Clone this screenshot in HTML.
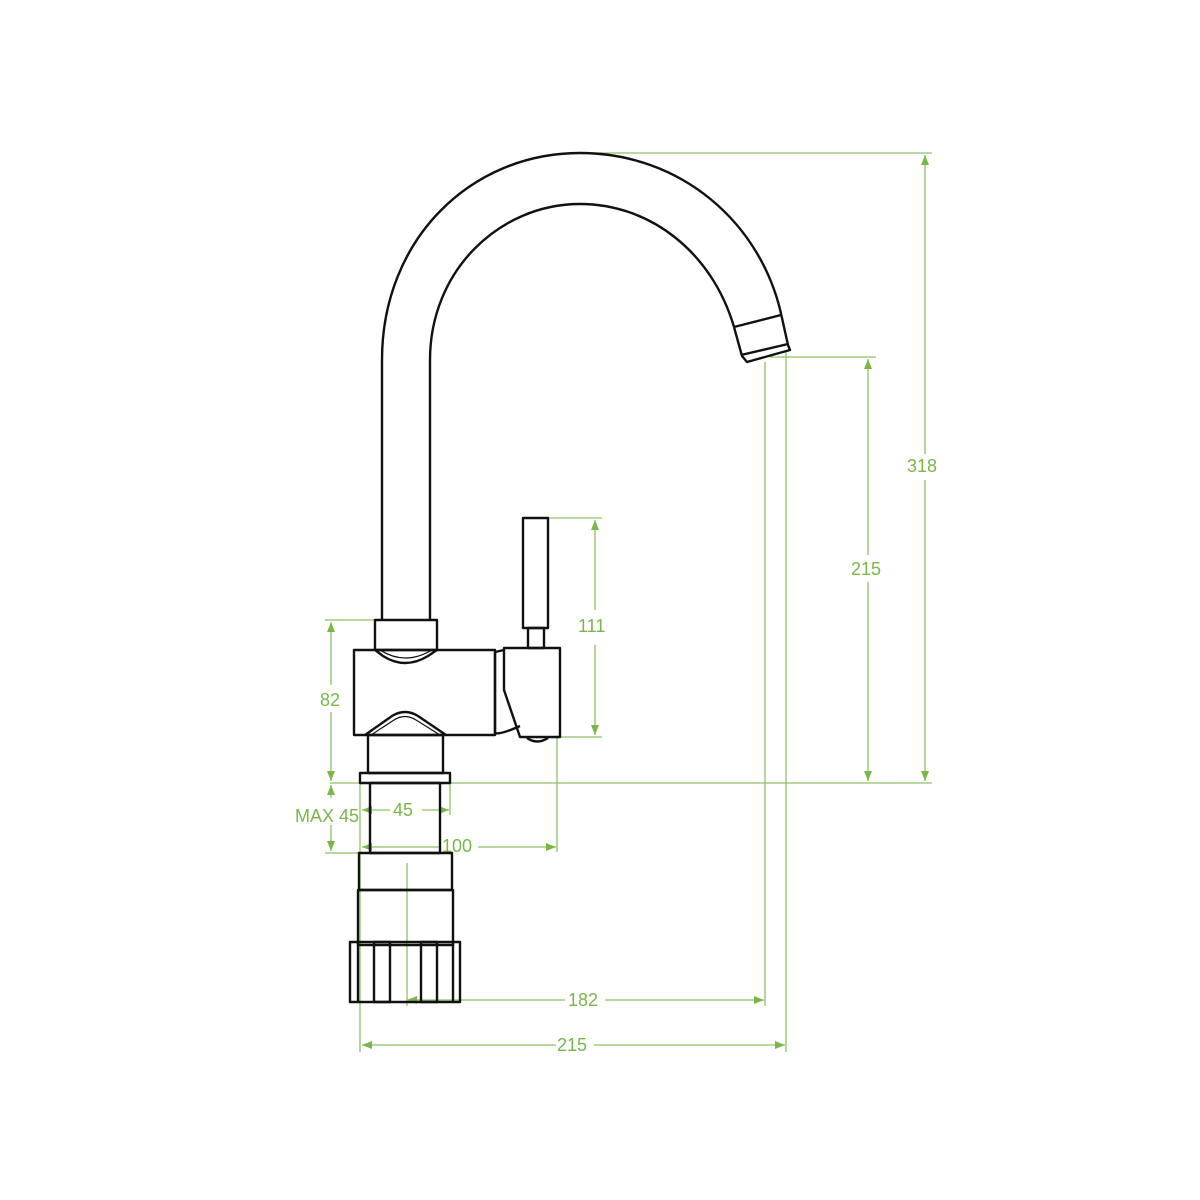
<!DOCTYPE html>
<html><head><meta charset="utf-8"><style>
html,body{margin:0;padding:0;background:#fff;}
svg{display:block;}
text{font-family:"Liberation Sans",sans-serif;font-size:18px;fill:#7ab648;}
</style></head><body>
<svg width="1200" height="1200" viewBox="0 0 1200 1200" xmlns="http://www.w3.org/2000/svg">
<defs>
<marker id="a" viewBox="0 0 10 10" refX="10" refY="5" markerWidth="10" markerHeight="10" orient="auto-start-reverse" markerUnits="userSpaceOnUse">
<path d="M0,1 L10,5 L0,9 z" fill="#7ab648"/></marker>
</defs>
<g stroke="#8cc063" stroke-width="1.3" fill="none">
<line x1="590" y1="153" x2="932" y2="153"/>
<line x1="330" y1="783" x2="932" y2="783"/>
<line x1="925" y1="155" x2="925" y2="454" marker-start="url(#a)"/>
<line x1="925" y1="480" x2="925" y2="781" marker-end="url(#a)"/>
<line x1="770" y1="357" x2="876" y2="357"/>
<line x1="868" y1="359" x2="868" y2="555" marker-start="url(#a)"/>
<line x1="868" y1="582" x2="868" y2="781" marker-end="url(#a)"/>
<line x1="548" y1="518" x2="602" y2="518"/>
<line x1="560" y1="737" x2="602" y2="737"/>
<line x1="595" y1="520" x2="595" y2="610" marker-start="url(#a)"/>
<line x1="595" y1="645" x2="595" y2="735" marker-end="url(#a)"/>
<line x1="325" y1="620" x2="377" y2="620"/>
<line x1="331" y1="622" x2="331" y2="685" marker-start="url(#a)"/>
<line x1="331" y1="712" x2="331" y2="781" marker-end="url(#a)"/>
<line x1="331" y1="785" x2="331" y2="798" marker-start="url(#a)"/>
<line x1="331" y1="825" x2="331" y2="851" marker-end="url(#a)"/>
<line x1="325" y1="853" x2="440" y2="853"/>
<line x1="362" y1="810" x2="390" y2="810" marker-start="url(#a)"/>
<line x1="422" y1="810" x2="449" y2="810" marker-end="url(#a)"/>
<line x1="450" y1="783" x2="450" y2="815"/>
<line x1="362" y1="847" x2="440" y2="847" marker-start="url(#a)"/>
<line x1="478" y1="847" x2="556" y2="847" marker-end="url(#a)"/>
<line x1="557" y1="737" x2="557" y2="852"/>
<line x1="360" y1="783" x2="360" y2="1052"/>
<line x1="407" y1="863" x2="407" y2="1006"/>
<line x1="407" y1="1000" x2="565" y2="1000" marker-start="url(#a)"/>
<line x1="605" y1="1000" x2="764" y2="1000" marker-end="url(#a)"/>
<line x1="765" y1="362" x2="765" y2="1006"/>
<line x1="786" y1="350" x2="786" y2="1052"/>
<line x1="362" y1="1045" x2="556" y2="1045" marker-start="url(#a)"/>
<line x1="594" y1="1045" x2="785" y2="1045" marker-end="url(#a)"/>
</g>
<g>
<text x="907" y="472">318</text>
<text x="851" y="575">215</text>
<text x="578" y="632">111</text>
<text x="320" y="706">82</text>
<text x="295" y="822">MAX 45</text>
<text x="393" y="816">45</text>
<text x="442" y="852">100</text>
<text x="568" y="1006">182</text>
<text x="557" y="1051">215</text>
</g>
<g stroke="#111" stroke-width="2.4" fill="none" stroke-linejoin="round">
<path d="M382,620 L382,360 C382,240 470,153 580,153 C680,153 762,222 782,318 L788,345 L790,350 L747,362 L742,356 L734,327"/>
<path d="M430,620 L430,360 C430,270 500,204 580,204 C650,204 712,252 734,327"/>
<line x1="734" y1="327" x2="781" y2="315"/>
<line x1="741" y1="355" x2="788" y2="344"/>
<rect x="375" y="620" width="62" height="30"/>
<path d="M375,650 L383,656 Q405,670 428,656 L437,650"/>
<path d="M380,650 Q405,666 432,650" stroke-width="1.2"/>
<rect x="354" y="650" width="141" height="85"/>
<path d="M365,735 L392,716 Q405,708 418,716 L446,735"/>
<path d="M371,735 L394,720 Q405,713 416,720 L440,735" stroke-width="1.2"/>
<rect x="368" y="735" width="75" height="38"/>
<rect x="360" y="773" width="90" height="10"/>
<rect x="370" y="783" width="70" height="70"/>
<rect x="359" y="853" width="93" height="37"/>
<rect x="358" y="890" width="95" height="55"/>
<rect x="350" y="942" width="110" height="60"/>
<rect x="374" y="942" width="16" height="60"/>
<rect x="421" y="942" width="16" height="60"/>
<line x1="358" y1="942" x2="358" y2="1002"/>
<line x1="453" y1="942" x2="453" y2="1002"/>
<rect x="523" y="518" width="25" height="110"/>
<rect x="528" y="628" width="16" height="20"/>
<path d="M495,652 L504,650 M495,733 Q500,735 520,726"/>
<path d="M504,648 L560,648 L560,737 L520,737 L504,690 Z"/>
<path d="M527,738 Q537,745 548,738"/>
<line x1="495" y1="652" x2="495" y2="735"/>
</g>
</svg>
</body></html>
